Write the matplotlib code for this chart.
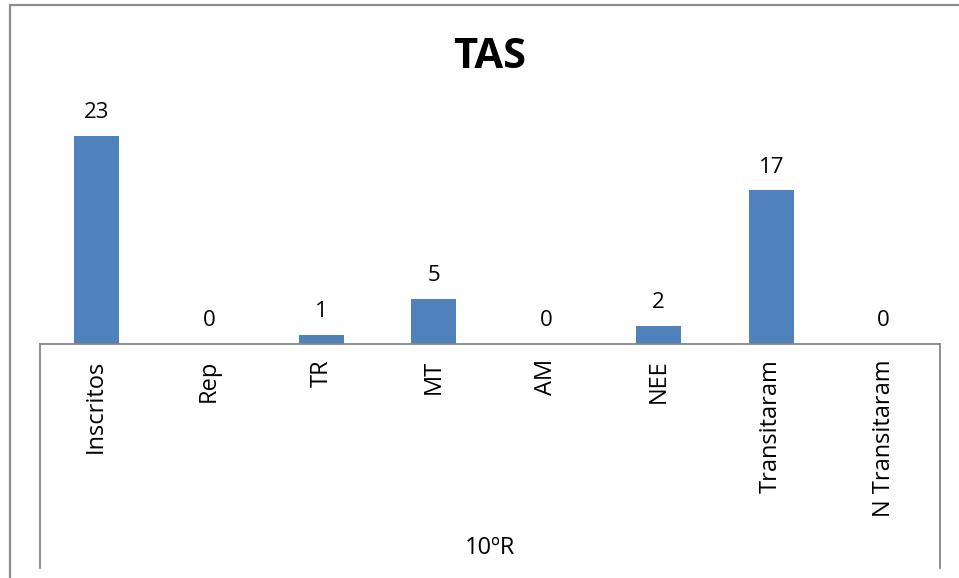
import matplotlib.pyplot as plt
from matplotlib.patches import Rectangle
from matplotlib.lines import Line2D

categories = ["Inscritos", "Rep", "TR", "MT", "AM", "NEE", "Transitaram", "N Transitaram"]
values = [23, 0, 1, 5, 0, 2, 17, 0]
group_label = "10ºR"
title = "TAS"

plt.rcParams["font.family"] = ["Open Sans", "DejaVu Sans"]

W, H = 959, 578
fig = plt.figure(figsize=(W / 100, H / 100), dpi=100)

# outer chart frame (left/top only visible, rest runs off the image)
fig.patches.append(Rectangle((10 / W, -0.1), 1.1, (H - 5) / H + 0.1,
                             transform=fig.transFigure, fill=False,
                             edgecolor="#8c8c8c", linewidth=1.6))

ymax = 27
px_per_unit = 9.05
left, right, bottom = 40, 940, 344
top = bottom - ymax * px_per_unit
ax = fig.add_axes([left / W, 1 - bottom / H, (right - left) / W, (bottom - top) / H])

x = range(len(categories))
bars = ax.bar(x, values, width=0.4, color="#4f81bd")
ax.set_xlim(-0.5, len(categories) - 0.5)
ax.set_ylim(0, ymax)

for b, v in zip(bars, values):
    ax.annotate(str(v), (b.get_x() + b.get_width() / 2, v), xytext=(0, 9),
                textcoords="offset points", ha="center", va="bottom", fontsize=16)

for s in ["top", "right", "left"]:
    ax.spines[s].set_visible(False)
ax.spines["bottom"].set_color("#868686")
ax.spines["bottom"].set_linewidth(1.3)
ax.set_yticks([])
ax.set_xticks(list(x))
ax.set_xticklabels(categories, rotation=90, fontsize=17, va="top")
ax.tick_params(axis="x", length=0, pad=11)

# multi-level category axis: side lines and group label
for xp in (left, right):
    fig.add_artist(Line2D([xp / W, xp / W], [1 - bottom / H, 1 - 568 / H],
                          color="#868686", linewidth=1.3))
fig.text(490 / W, 1 - 548 / H, group_label, ha="center", va="center", fontsize=17)

fig.text(490 / W, 1 - 57 / H, title, ha="center", va="center",
         fontsize=30, fontweight="bold")

fig.savefig("out.png", dpi=100)
